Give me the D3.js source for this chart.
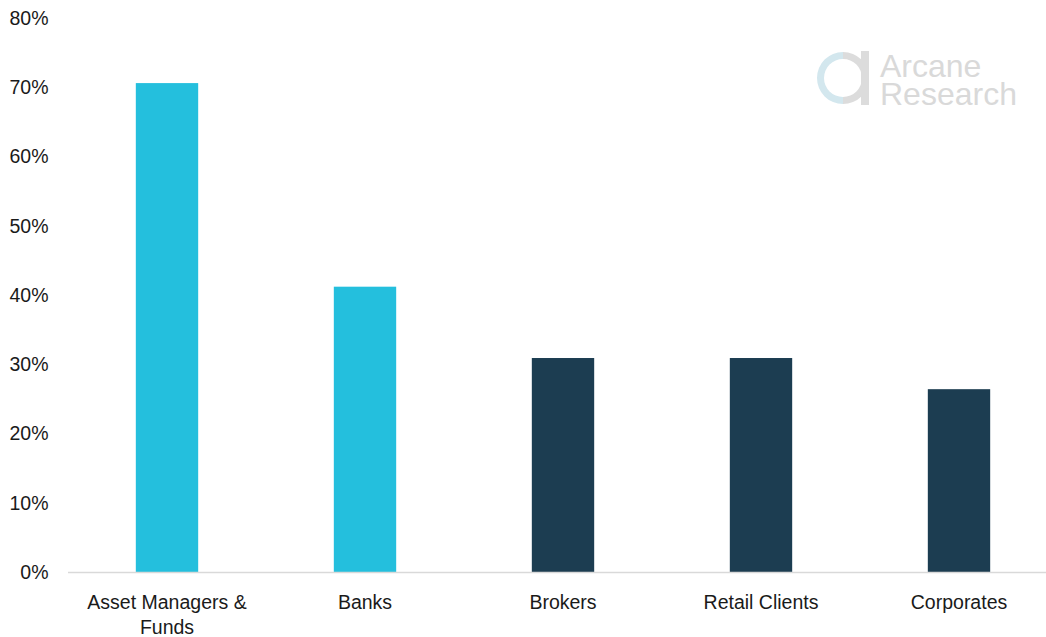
<!DOCTYPE html>
<html>
<head>
<meta charset="utf-8">
<script src="https://cdn.jsdelivr.net/npm/d3@7"></script>
<style>
  html, body { margin: 0; padding: 0; background: #fff; }
  svg { display: block; font-family: "Liberation Sans", Arial, sans-serif; }
</style>
</head>
<body>
<svg id="chart" width="1046" height="637"></svg>
<script>
// Share of respondents by client type (%)
const categories = ["Asset Managers & Funds", "Banks", "Brokers", "Retail Clients", "Corporates"];
const values = [70.6, 41.2, 30.9, 30.9, 26.4];
const barColors = ["#24BFDD", "#24BFDD", "#1C3D51", "#1C3D51", "#1C3D51"];
const yTicks = [0, 10, 20, 30, 40, 50, 60, 70, 80];

const svg = d3.select("#chart");
const W = 1046, H = 637;
const margin = { left: 68, top: 18, bottom: 65 };
const fontSize = 19.5;

const x = d3.scaleBand()
  .domain(categories)
  .range([margin.left, margin.left + 990])
  .paddingInner(0.685)
  .paddingOuter(0.3425);

const y = d3.scaleLinear()
  .domain([0, 80])
  .range([572, 18]);

// Y axis labels only (no line, no ticks)
const yAxis = d3.axisLeft(y).tickValues(yTicks).tickFormat(d => d + "%").tickSize(0).tickPadding(0);
const gy = svg.append("g").attr("transform", "translate(48.5,0)").call(yAxis);
gy.select(".domain").remove();
gy.selectAll("text")
  .attr("font-size", fontSize)
  .attr("fill", "#1a1a1a")
  .attr("font-family", "Liberation Sans, Arial, sans-serif");

// Bars
svg.append("g").selectAll("rect")
  .data(values)
  .join("rect")
  .attr("x", (d, i) => x(categories[i]))
  .attr("width", x.bandwidth())
  .attr("y", d => y(d))
  .attr("height", d => y(0) - y(d))
  .attr("fill", (d, i) => barColors[i]);

// Baseline
svg.append("line")
  .attr("x1", margin.left).attr("x2", W)
  .attr("y1", y(0) + 0.5).attr("y2", y(0) + 0.5)
  .attr("stroke", "#d9d9d9").attr("stroke-width", 1.5);

// Category labels (wrapped)
const xAxis = d3.axisBottom(x).tickSize(0).tickPadding(0);
const gx = svg.append("g").attr("transform", `translate(0,${y(0)})`).call(xAxis);
gx.select(".domain").remove();
gx.selectAll("text").remove();
const wrapped = {
  "Asset Managers & Funds": ["Asset Managers &", "Funds"]
};
categories.forEach(c => {
  const lines = wrapped[c] || [c];
  const cx = x(c) + x.bandwidth() / 2;
  const t = svg.append("text")
    .attr("x", cx)
    .attr("y", 609)
    .attr("text-anchor", "middle")
    .attr("font-size", fontSize)
    .attr("fill", "#1a1a1a");
  lines.forEach((l, i) => {
    t.append("tspan").attr("x", cx).attr("dy", i === 0 ? 0 : 24.5).text(l);
  });
});

// Logo
const logo = svg.append("g").attr("transform", "translate(843,78)");
const ringArc = d3.arc().innerRadius(19).outerRadius(26);
logo.append("path")
  .attr("d", ringArc({ startAngle: Math.PI, endAngle: 2 * Math.PI }))
  .attr("fill", "#D3E7EE");
logo.append("path")
  .attr("d", ringArc({ startAngle: 0, endAngle: Math.PI }))
  .attr("fill", "#DCDCDC");
logo.append("rect")
  .attr("x", 18).attr("y", -27).attr("width", 8).attr("height", 54)
  .attr("fill", "#DCDCDC");
const logoText = svg.append("text")
  .attr("font-size", 32).attr("fill", "#D9D9D9");
logoText.append("tspan").attr("x", 880).attr("y", 77).text("Arcane");
logoText.append("tspan").attr("x", 880).attr("y", 105).text("Research");
</script>
</body>
</html>
